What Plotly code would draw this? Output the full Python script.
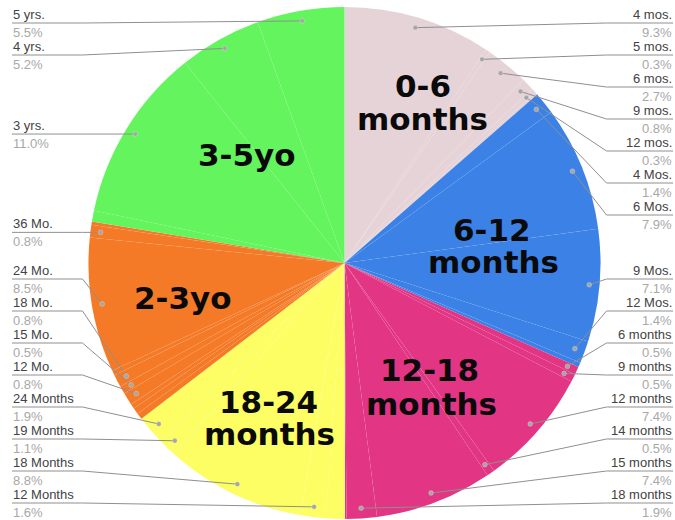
import math
import plotly.graph_objects as go

# ---------------- data ----------------
group_names = ["0-6 months", "6-12 months", "12-18 months", "18-24 months", "2-3yo", "3-5yo"]
group_colors = ["#e6d3d8", "#3c82e6", "#e23584", "#fdfd64", "#f57a28", "#64f45e"]

# slices in clockwise order from 12 o'clock; "" = slice without an outside label
slice_labels = [
    "4 mos.", "5 mos.", "6 mos.", "9 mos.", "12 mos.", "",
    "4 Mos.", "6 Mos.", "9 Mos.", "12 Mos.", "",
    "6 months", "9 months", "12 months", "14 months", "15 months", "18 months", "",
    "", "12 Months", "18 Months", "19 Months", "24 Months",
    "", "", "", "12 Mo.", "15 Mo.", "18 Mo.", "", "24 Mo.", "36 Mo.", "",
    "", "3 yrs.", "4 yrs.", "5 yrs.",
]
slice_values = [
    9.3, 0.3, 2.7, 0.8, 0.3, 0.15,
    1.4, 7.9, 7.1, 1.4, 0.3,
    0.5, 0.5, 7.4, 0.5, 7.4, 1.9, 0.1,
    1.2, 1.6, 8.8, 1.1, 1.9,
    0.4, 0.4, 0.3, 0.8, 0.5, 0.8, 0.3, 8.5, 0.8, 0.2,
    0.7, 11.0, 5.2, 5.5,
]
slice_groups = (
    ["0-6 months"] * 6 + ["6-12 months"] * 5 + ["12-18 months"] * 7 +
    ["18-24 months"] * 5 + ["2-3yo"] * 10 + ["3-5yo"] * 4
)

# big group captions (line 1, line 2) and their placement in pixel space
group_caption_lines = {
    "0-6 months": ["0-6", "months"],
    "6-12 months": ["6-12", "months"],
    "12-18 months": ["12-18", "months"],
    "18-24 months": ["18-24", "months"],
    "2-3yo": ["2-3yo"],
    "3-5yo": ["3-5yo"],
}
group_caption_pos = {
    "0-6 months": [(423, 86), (422, 119)],
    "6-12 months": [(492, 230), (493, 262)],
    "12-18 months": [(429, 370), (431, 404)],
    "18-24 months": [(268, 402), (269, 434)],
    "2-3yo": [(183, 298)],
    "3-5yo": [(247, 155)],
}

# ---------------- geometry (pixel space) ----------------
W, H = 675, 520
cx, cy, R = 344.5, 263.0, 256.0
dot_r = 0.96 * R
elbow_off = 6
gap = 32.0
top_y, bot_y = 23.0, 503.0
left_x, right_x = 12.0, 673.0

color_map = dict(zip(group_names, group_colors))
pie_labels = [l if l else f"(other {i})" for i, l in enumerate(slice_labels)]
pie_colors = [color_map[g] for g in slice_groups]

fig = go.Figure()
fig.add_trace(go.Pie(
    labels=pie_labels, values=slice_values, sort=False, direction="clockwise",
    rotation=0, textinfo="none", hoverinfo="label+percent",
    marker=dict(colors=pie_colors, line=dict(color="rgba(255,255,255,0.08)", width=0.3)),
    domain=dict(x=[(cx - R) / W, (cx + R) / W], y=[1 - (cy + R) / H, 1 - (cy - R) / H]),
    showlegend=False,
))
# invisible trace to establish pixel-space axes
fig.add_trace(go.Scatter(x=[0, W], y=[0, H], mode="markers", marker=dict(opacity=0),
                         hoverinfo="skip", showlegend=False))

# ---------------- label anchor points ----------------
total = sum(slice_values)
cum = 0.0
items = []
for lab, v in zip(slice_labels, slice_values):
    mid = (cum + v / 2) / total * 2 * math.pi
    cum += v
    if not lab:
        continue
    items.append(dict(label=lab, pct=v,
                      x=cx + dot_r * math.sin(mid), y=cy - dot_r * math.cos(mid),
                      side="right" if mid < math.pi else "left"))


def layout_side(ys):
    order = sorted(range(len(ys)), key=lambda i: ys[i])
    clusters = [[i] for i in order]

    def place(cl):
        span = (len(cl) - 1) * gap
        mean = sum(ys[i] for i in cl) / len(cl)
        t = mean - span / 2
        return max(top_y, min(t, bot_y - span))

    changed = True
    while changed:
        changed = False
        tops = [place(c) for c in clusters]
        for k in range(len(clusters) - 1):
            end = tops[k] + (len(clusters[k]) - 1) * gap
            if end + gap > tops[k + 1] + 1e-9:
                clusters[k] = clusters[k] + clusters[k + 1]
                del clusters[k + 1]
                changed = True
                break
    res = {}
    for c in clusters:
        t = place(c)
        for j, i in enumerate(c):
            res[i] = t + j * gap
    return res


shapes = []
annotations = []
for side in ("left", "right"):
    sub = [it for it in items if it["side"] == side]
    ly = layout_side([it["y"] for it in sub])
    for i, it in enumerate(sub):
        y_line = ly[i]
        if side == "left":
            ex, endx, xa, tx = cx - R - elbow_off, left_x, "left", left_x
        else:
            ex, endx, xa, tx = cx + R + elbow_off, right_x, "right", right_x
        shapes.append(dict(type="path", xref="x", yref="y", layer="above",
                           path=f"M {it['x']:.2f},{it['y']:.2f} L {ex:.2f},{y_line:.2f} L {endx:.2f},{y_line:.2f}",
                           line=dict(color="#8f8f8f", width=1)))
        shapes.append(dict(type="circle", xref="x", yref="y", layer="above",
                           x0=it["x"] - 2.4, x1=it["x"] + 2.4, y0=it["y"] - 2.4, y1=it["y"] + 2.4,
                           fillcolor="#a6a6a6", line=dict(color="rgba(255,255,255,0.5)", width=0.5)))
        annotations.append(dict(xref="x", yref="y", x=tx, y=y_line - 8.5, xanchor=xa, yanchor="middle",
                                text=it["label"], showarrow=False, borderpad=0,
                                font=dict(family="Liberation Sans, Arial", size=13, color="#424242")))
        annotations.append(dict(xref="x", yref="y", x=tx, y=y_line + 9.5, xanchor=xa, yanchor="middle",
                                text=f"{it['pct']:.1f}%", showarrow=False, borderpad=0,
                                font=dict(family="Liberation Sans, Arial", size=13, color="#a8a8a8")))

for g in group_names:
    for line_txt, (px, py) in zip(group_caption_lines[g], group_caption_pos[g]):
        annotations.append(dict(xref="x", yref="y", x=px, y=py, xanchor="center", yanchor="middle",
                                text=line_txt, showarrow=False,
                                font=dict(family="DejaVu Sans", size=31, color="#0a0a0a", weight="bold")))

fig.update_layout(
    width=W, height=H, autosize=False,
    margin=dict(l=0, r=0, t=0, b=0, pad=0),
    paper_bgcolor="white", plot_bgcolor="rgba(0,0,0,0)",
    xaxis=dict(range=[0, W], visible=False, fixedrange=True, domain=[0, 1]),
    yaxis=dict(range=[H, 0], visible=False, fixedrange=True, domain=[0, 1]),
    shapes=shapes, annotations=annotations, showlegend=False,
)

fig.write_html("out.html", config={"displayModeBar": False},
               post_script="document.body.style.margin='0';document.body.style.overflow='hidden';")
